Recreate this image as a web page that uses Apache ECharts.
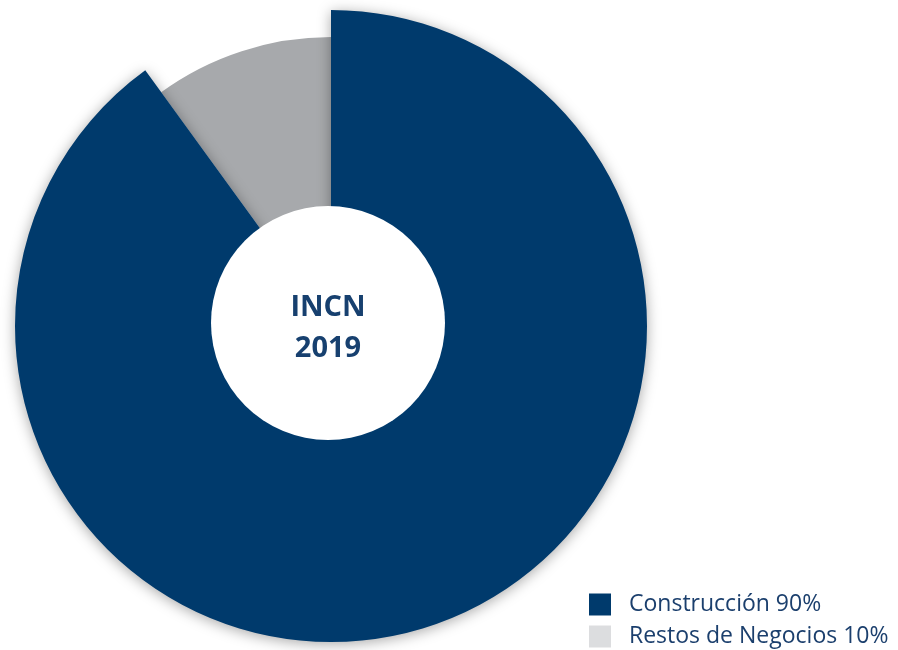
<!DOCTYPE html>
<html>
<head>
<meta charset="utf-8">
<script src="https://cdn.jsdelivr.net/npm/echarts@6/dist/echarts.min.js"></script>
<style>
html,body{margin:0;padding:0;background:#fff;}
#main{width:898px;height:650px;}
</style>
</head>
<body>
<div id="main"></div>
<script>
var arrNames = ['Construcción', 'Restos de Negocios'];   //categorías
var arrValues = [90, 10];                                 //porcentaje INCN
var arrColors = ['#003a6c', '#a7a9ac'];
var arrLegendColors = ['#003a6c', '#dcdddf'];
var centerText = 'INCN\n2019';

// cada serie dibuja solo su sector, con radio distinto
function buildData(k){
    var d = [];
    for (var i = 0; i < arrNames.length; i++){
        if (i == k){
            d.push({name: arrNames[i], value: arrValues[i], itemStyle: {color: arrColors[i]}});
        } else {
            d.push({name: arrNames[i], value: arrValues[i],
                itemStyle: {color: 'rgba(0,0,0,0)', shadowBlur: 0, shadowColor: 'rgba(0,0,0,0)'}});
        }
    }
    return d;
}

// una leyenda por fila
function buildLegend(i, top){
    return {
        data: [{name: arrNames[i], itemStyle: {color: arrLegendColors[i]}}],
        left: 584,
        top: top,
        icon: 'rect',
        itemWidth: 22,
        itemHeight: 22,
        itemGap: 12,
        selectedMode: false,
        formatter: function(name){
            return '{a|' + name + ' ' + arrValues[arrNames.indexOf(name)] + '%}';
        },
        textStyle: {
            color: '#1b3f6d',
            fontSize: 23,
            fontFamily: 'Open Sans',
            rich: {
                a: {
                    color: '#1b3f6d',
                    fontSize: 23,
                    fontFamily: 'Open Sans',
                    padding: [0, 0, 0, 13]
                }
            }
        }
    };
}

var myChart = echarts.init(document.getElementById('main'));
var option = {
    animation: false,
    legend: [buildLegend(0, 588), buildLegend(1, 620)],
    graphic: [
        {
            type: 'circle',
            shape: {cx: 328, cy: 323, r: 117},
            style: {fill: '#fff'},
            z: 99
        },
        {
            type: 'text',
            x: 328,
            y: 328,
            style: {
                text: centerText,
                textAlign: 'center',
                textVerticalAlign: 'middle',
                fill: '#17406f',
                font: 'bold 29px "Open Sans"',
                lineHeight: 41
            },
            z: 100
        }
    ],
    series: [
        {
            type: 'pie',
            z: 1,
            center: [331, 326],
            radius: [100, 289],
            startAngle: 90,
            clockwise: true,
            label: {show: false},
            labelLine: {show: false},
            emphasis: {disabled: true},
            data: buildData(1)
        },
        {
            type: 'pie',
            z: 2,
            center: [331, 326],
            radius: [100, 316],
            startAngle: 90,
            clockwise: true,
            label: {show: false},
            labelLine: {show: false},
            emphasis: {disabled: true},
            itemStyle: {
                shadowBlur: 14,
                shadowColor: 'rgba(0,0,0,0.35)',
                shadowOffsetY: 2
            },
            data: buildData(0)
        }
    ]
};
myChart.setOption(option);
</script>
</body>
</html>
